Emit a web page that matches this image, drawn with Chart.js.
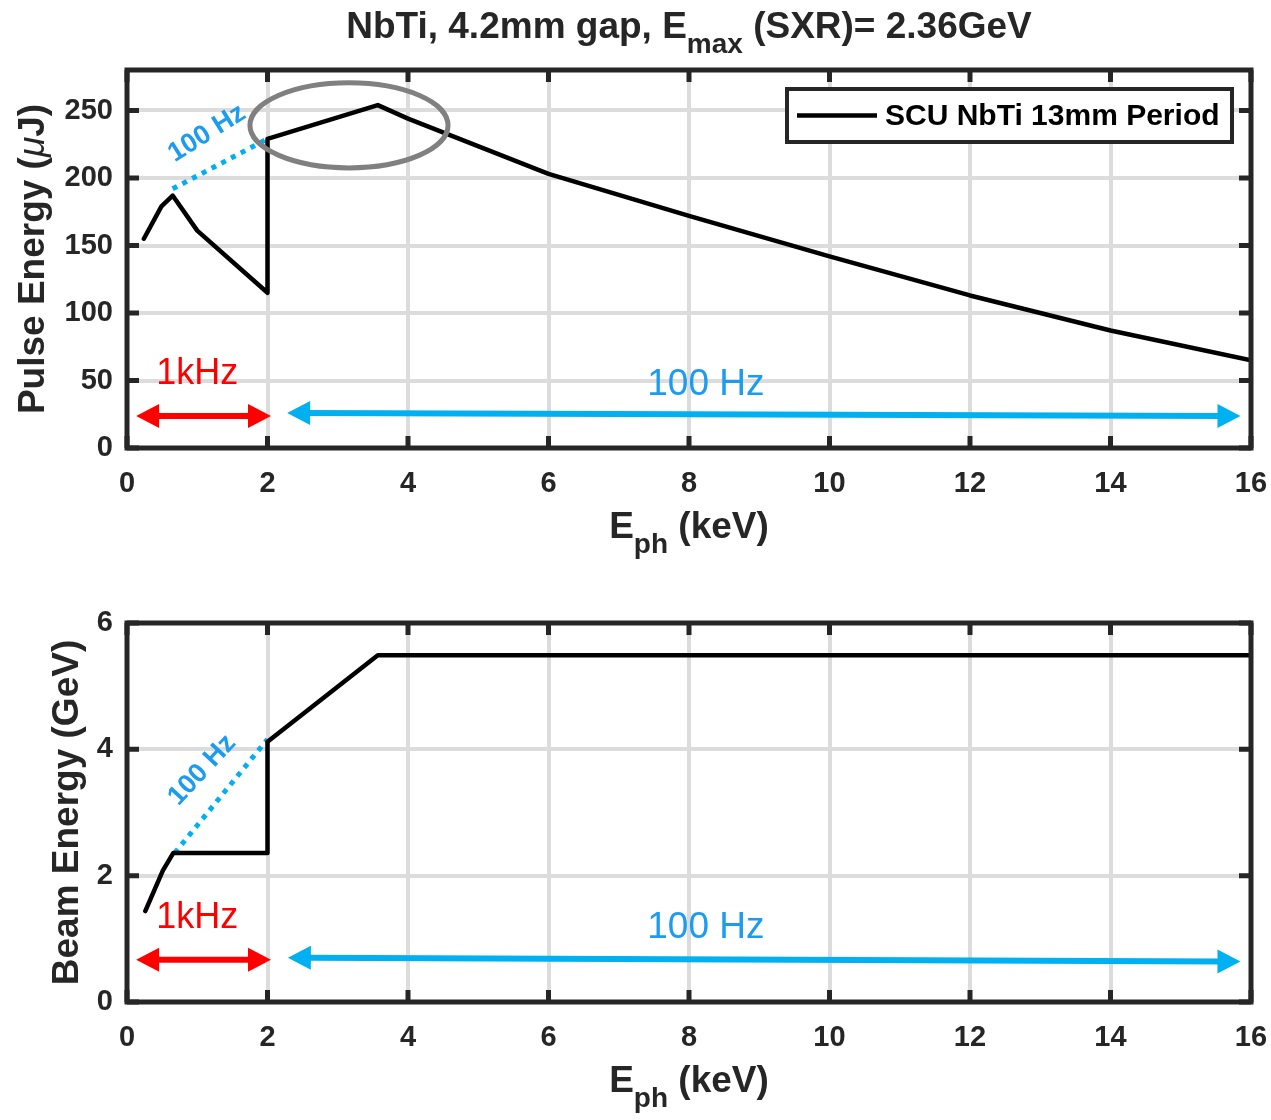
<!DOCTYPE html>
<html>
<head>
<meta charset="utf-8">
<script src="https://cdn.jsdelivr.net/npm/chart.js@4.4.1/dist/chart.umd.min.js"></script>
<style>
  html, body { margin: 0; padding: 0; background: #fff; }
  #wrap { position: relative; width: 1271px; height: 1120px; }
  canvas { position: absolute; left: 0; }
</style>
</head>
<body>
<div id="wrap">
  <canvas id="cPulse" width="1271" height="560" style="top:0"></canvas>
  <canvas id="cBeam" width="1271" height="560" style="top:560px"></canvas>
</div>
<script>
// ---- dados ----
const xTicks     = [0, 2, 4, 6, 8, 10, 12, 14, 16];
const pulseTicks = [0, 50, 100, 150, 200, 250];
const beamTicks  = [0, 2, 4, 6];

// curva SCU NbTi 13mm (E_ph em keV)
const ephPulse    = [0.24, 0.49, 0.65, 1.0, 2.0, 2.0, 3.57, 4.0, 6.0, 8.0, 10.0, 12.0, 14.0, 16.0];
const pulseEnergy = [155, 179, 187, 161, 115, 229, 254, 244, 203, 172, 142, 113, 87, 65];

// trecho 100 Hz pontilhado
const ephPulseDot = [0.65, 2.0];
const pulseDot    = [192, 229];

const ephBeam    = [0.26, 0.51, 0.66, 2.0, 2.0, 3.57, 16.0];
const beamEnergy = [1.44, 2.08, 2.36, 2.36, 4.12, 5.49, 5.49];

const ephBeamDot = [0.68, 2.0];
const beamDot    = [2.36, 4.16];

const FONT = "'Liberation Sans', Arial, sans-serif";
const DARK = '#262626';
const CYAN = '#00b0f0';
const CYAN_TXT = '#1c9cf0';

const pts = (xs, ys) => xs.map((x, i) => ({ x, y: ys[i] }));

// desenha texto em partes (com subscrito)
function drawParts(ctx, parts, x, y, align) {
  let total = 0;
  parts.forEach(p => { ctx.font = p.font; total += ctx.measureText(p.t).width; });
  let cx = align === 'center' ? x - total / 2 : x;
  ctx.textAlign = 'left';
  ctx.textBaseline = 'alphabetic';
  parts.forEach(p => {
    ctx.font = p.font;
    ctx.fillText(p.t, cx, y + (p.dy || 0));
    cx += ctx.measureText(p.t).width;
  });
}

function drawArrow(ctx, x1, y1, x2, y2, color, headLen, headW, lw) {
  const ang = Math.atan2(y2 - y1, x2 - x1);
  const c = Math.cos(ang), s = Math.sin(ang);
  ctx.save();
  ctx.strokeStyle = color;
  ctx.fillStyle = color;
  ctx.lineWidth = lw;
  ctx.lineCap = 'butt';
  ctx.beginPath();
  ctx.moveTo(x1 + c * (headLen - 2), y1 + s * (headLen - 2));
  ctx.lineTo(x2 - c * (headLen - 2), y2 - s * (headLen - 2));
  ctx.stroke();
  [[x2, y2, 1], [x1, y1, -1]].forEach(([tx, ty, d]) => {
    const bx = tx - d * c * headLen, by = ty - d * s * headLen;
    ctx.beginPath();
    ctx.moveTo(tx, ty);
    ctx.lineTo(bx - s * headW, by + c * headW);
    ctx.lineTo(bx + s * headW, by - c * headW);
    ctx.closePath();
    ctx.fill();
  });
  ctx.restore();
}

// plugin: caixa, ticks internos, títulos, anotações
const overlay = {
  id: 'overlay',
  afterDraw(chart, args, o) {
    const ctx = chart.ctx;
    const a = chart.chartArea;
    const xs = chart.scales.x, ys = chart.scales.y;
    ctx.save();

    // setas
    o.arrows.forEach(ar => {
      drawArrow(ctx,
        xs.getPixelForValue(ar.x[0]), ys.getPixelForValue(ar.y[0]),
        xs.getPixelForValue(ar.x[1]), ys.getPixelForValue(ar.y[1]),
        ar.color, 23, 12, 6);
    });

    // elipse
    if (o.ellipse) {
      const e = o.ellipse;
      const cx = xs.getPixelForValue(e.x), cy = ys.getPixelForValue(e.y);
      const rx = Math.abs(xs.getPixelForValue(e.x + e.rx) - cx);
      const ry = Math.abs(ys.getPixelForValue(e.y + e.ry) - cy);
      ctx.strokeStyle = '#808080';
      ctx.lineWidth = 5;
      ctx.beginPath();
      ctx.ellipse(cx, cy, rx, ry, 0, 0, Math.PI * 2);
      ctx.stroke();
    }

    // textos
    o.labels.forEach(l => {
      ctx.save();
      ctx.translate(xs.getPixelForValue(l.x), ys.getPixelForValue(l.y));
      ctx.rotate((l.rot || 0) * Math.PI / 180);
      ctx.fillStyle = l.color;
      ctx.font = l.font;
      ctx.textAlign = 'center';
      ctx.textBaseline = 'middle';
      ctx.fillText(l.t, 0, 0);
      ctx.restore();
    });

    // caixa dos eixos + ticks internos
    ctx.strokeStyle = DARK;
    ctx.lineWidth = 5;
    ctx.lineCap = 'butt';
    xs.ticks.forEach(t => {
      const px = xs.getPixelForValue(t.value);
      ctx.beginPath();
      ctx.moveTo(px, a.bottom); ctx.lineTo(px, a.bottom - 12);
      ctx.moveTo(px, a.top); ctx.lineTo(px, a.top + 12);
      ctx.stroke();
    });
    ys.ticks.forEach(t => {
      const py = ys.getPixelForValue(t.value);
      ctx.beginPath();
      ctx.moveTo(a.left, py); ctx.lineTo(a.left + 12, py);
      ctx.moveTo(a.right, py); ctx.lineTo(a.right - 12, py);
      ctx.stroke();
    });
    ctx.strokeRect(a.left, a.top, a.right - a.left, a.bottom - a.top);

    // legenda
    if (o.legend) {
      const lg = o.legend;
      ctx.fillStyle = '#fff';
      ctx.fillRect(lg.x, lg.y, lg.w, lg.h);
      ctx.lineWidth = 4;
      ctx.strokeStyle = DARK;
      ctx.strokeRect(lg.x, lg.y, lg.w, lg.h);
      ctx.strokeStyle = '#000';
      ctx.lineWidth = 4.5;
      ctx.beginPath();
      ctx.moveTo(lg.x + 10, lg.y + lg.h / 2);
      ctx.lineTo(lg.x + 90, lg.y + lg.h / 2);
      ctx.stroke();
      ctx.fillStyle = '#000';
      ctx.font = 'bold 30px ' + FONT;
      ctx.textAlign = 'left';
      ctx.textBaseline = 'middle';
      ctx.fillText(chart.data.datasets[0].label, lg.x + 98, lg.y + lg.h / 2 + 1);
    }

    // títulos
    ctx.fillStyle = DARK;
    const cx = (a.left + a.right) / 2;
    if (o.title) drawParts(ctx, o.title, cx, o.titleY, 'center');
    drawParts(ctx, [
      { t: 'E', font: 'bold 37px ' + FONT },
      { t: 'ph', font: 'bold 28px ' + FONT, dy: 15 },
      { t: ' (keV)', font: 'bold 37px ' + FONT }
    ], cx, a.bottom + o.xTitleDy, 'center');

    ctx.save();
    ctx.translate(o.yTitleX, (a.top + a.bottom) / 2);
    ctx.rotate(-Math.PI / 2);
    drawParts(ctx, o.yTitle, 0, 0, 'center');
    ctx.restore();

    ctx.restore();
  }
};

function baseOptions(yMin, yMax, yTickVals, padTop, xAxisH, ov) {
  return {
    responsive: false,
    animation: false,
    events: [],
    layout: { padding: { top: padTop, right: 20, left: 0, bottom: 0 } },
    plugins: { legend: { display: false }, tooltip: { enabled: false }, overlay: ov },
    scales: {
      x: {
        type: 'linear', min: 0, max: 16,
        afterBuildTicks: s => { s.ticks = xTicks.map(v => ({ value: v })); },
        afterFit: s => { s.height = xAxisH; s.paddingLeft = 0; s.paddingRight = 0; },
        ticks: { color: DARK, font: { family: FONT, size: 29, weight: 'bold' }, padding: 19, maxRotation: 0 },
        grid: { color: '#dcdcdc', lineWidth: 4, drawTicks: false },
        border: { display: false }
      },
      y: {
        type: 'linear', min: yMin, max: yMax,
        afterBuildTicks: s => { s.ticks = yTickVals.map(v => ({ value: v })); },
        afterFit: s => { s.width = 127; s.paddingTop = 0; s.paddingBottom = 0; },
        ticks: { color: DARK, font: { family: FONT, size: 29, weight: 'bold' }, padding: 14 },
        grid: { color: '#dcdcdc', lineWidth: 4, drawTicks: false },
        border: { display: false }
      }
    }
  };
}

const lineDs = (label, data) => ({
  label, data, borderColor: '#000', borderWidth: 4.5, pointRadius: 0,
  tension: 0, fill: false, borderJoinStyle: 'round', borderCapStyle: 'round'
});
const dotDs = data => ({
  label: '100 Hz', data, borderColor: CYAN, borderWidth: 5, borderDash: [5, 6],
  pointRadius: 0, tension: 0, fill: false, borderCapStyle: 'butt'
});

// ---- gráfico superior: Pulse Energy ----
new Chart(document.getElementById('cPulse'), {
  type: 'line',
  data: { datasets: [
    lineDs('SCU NbTi 13mm Period', pts(ephPulse, pulseEnergy)),
    dotDs(pts(ephPulseDot, pulseDot))
  ] },
  options: baseOptions(0, 280, pulseTicks, 70, 112, {
    title: [
      { t: 'NbTi, 4.2mm gap, E', font: 'bold 37px ' + FONT },
      { t: 'max', font: 'bold 28px ' + FONT, dy: 15 },
      { t: ' (SXR)= 2.36GeV', font: 'bold 37px ' + FONT }
    ],
    titleY: 38,
    xTitleDy: 90,
    yTitleX: 44,
    yTitle: [
      { t: 'Pulse Energy (', font: 'bold 37px ' + FONT },
      { t: '\u03bc', font: 'italic 37px ' + FONT },
      { t: 'J)', font: 'bold 37px ' + FONT }
    ],
    arrows: [
      { x: [0.13, 2.05], y: [23.7, 23.7], color: '#ff0000' },
      { x: [2.28, 15.85], y: [26, 23.7], color: CYAN }
    ],
    ellipse: { x: 3.16, y: 239, rx: 1.41, ry: 31.5 },
    labels: [
      { t: '1kHz', x: 1.0, y: 55, color: '#ff0000', font: '36px ' + FONT },
      { t: '100 Hz', x: 8.24, y: 47, color: CYAN_TXT, font: '37px ' + FONT },
      { t: '100 Hz', x: 1.14, y: 233, rot: -32, color: CYAN_TXT, font: 'bold 27px ' + FONT }
    ],
    legend: { x: 787, y: 89, w: 445, h: 53 }
  }),
  plugins: [overlay]
});

// ---- gráfico inferior: Beam Energy ----
new Chart(document.getElementById('cBeam'), {
  type: 'line',
  data: { datasets: [
    lineDs('Beam Energy', pts(ephBeam, beamEnergy)),
    dotDs(pts(ephBeamDot, beamDot))
  ] },
  options: baseOptions(0, 6, beamTicks, 63, 118, {
    xTitleDy: 90,
    yTitleX: 78,
    yTitle: [{ t: 'Beam Energy (GeV)', font: 'bold 37px ' + FONT }],
    arrows: [
      { x: [0.13, 2.05], y: [0.67, 0.67], color: '#ff0000' },
      { x: [2.29, 15.85], y: [0.70, 0.64], color: CYAN }
    ],
    labels: [
      { t: '1kHz', x: 1.0, y: 1.33, color: '#ff0000', font: '36px ' + FONT },
      { t: '100 Hz', x: 8.24, y: 1.17, color: CYAN_TXT, font: '37px ' + FONT },
      { t: '100 Hz', x: 1.07, y: 3.67, rot: -47, color: CYAN_TXT, font: 'bold 27px ' + FONT }
    ]
  }),
  plugins: [overlay]
});
</script>
</body>
</html>
